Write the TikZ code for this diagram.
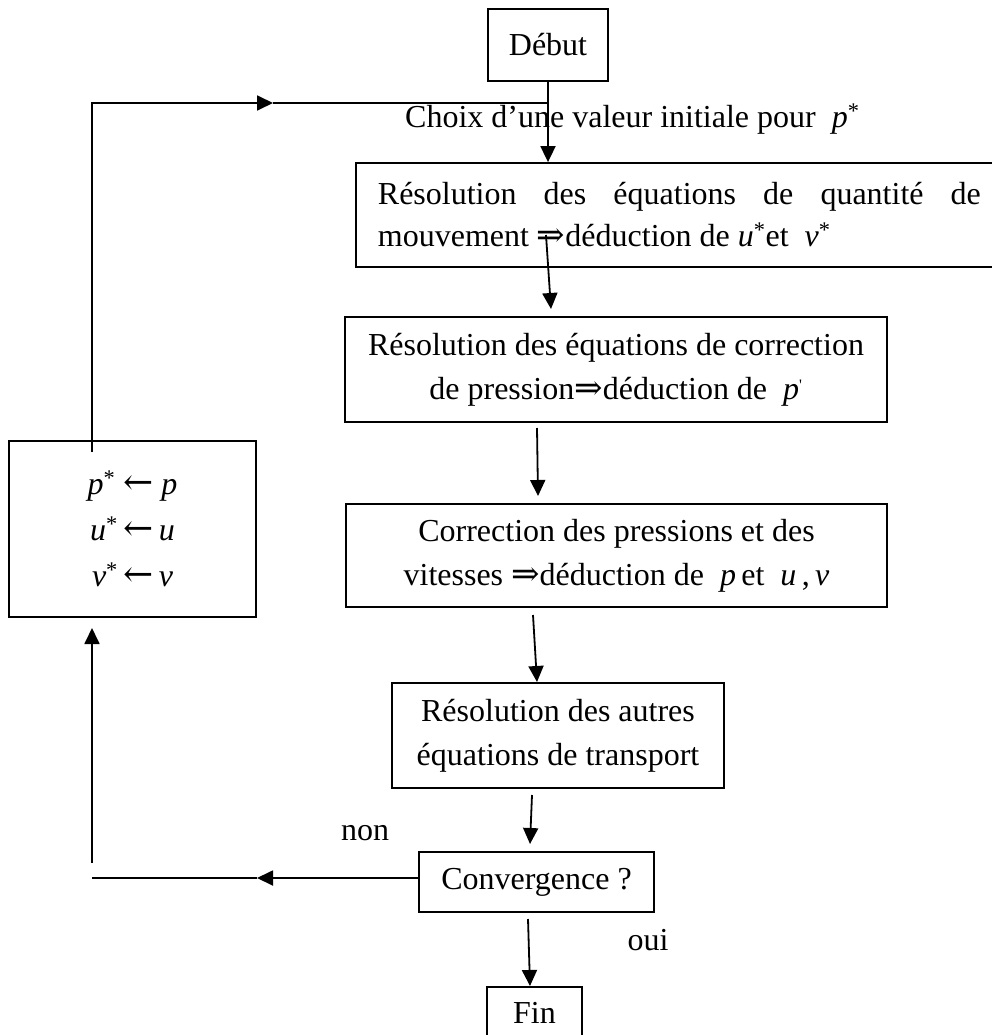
\documentclass[tikz,border=0pt]{standalone}
\usepackage{fontspec}
\setmainfont{Liberation Serif}
\newfontfamily\symfont{DejaVu Serif}
\newcommand{\imp}{{\symfont\fontsize{34}{34}\selectfont ⇒}}
\newcommand{\lar}{{\symfont\fontsize{36}{36}\selectfont ←}}
\newcommand{\st}{\textsuperscript{*}}
\usetikzlibrary{arrows.meta}
\tikzset{
  boxnode/.style={draw, line width=1.8pt, rectangle, inner sep=0pt, align=center,
    font=\fontsize{32}{44}\selectfont},
  lbl/.style={font=\fontsize{32}{44}\selectfont, inner sep=0pt},
  conn/.style={line width=1.8pt},
  arr/.style={conn, -{Triangle[length=16pt,width=15pt]}},
}
\begin{document}
\begin{tikzpicture}[x=1pt,y=-1pt]
\useasboundingbox (0,0) rectangle (992,1035);

\node[boxnode, minimum width=120pt, minimum height=72pt] (debut) at (548,45) {Début};

\node[boxnode, anchor=west, text width=603pt, inner xsep=22pt, minimum height=104pt,
      align=justify, font=\fontsize{32}{42}\selectfont] (b1) at (355,215)
  {Résolution des équations de quantité de\linebreak
   mouvement \imp déduction de \textit{u}\st et \ \textit{v}\st};

\node[boxnode, minimum width=542pt, minimum height=105pt] (b2) at (616,369.5)
  {Résolution des équations de correction\\
   de pression\imp déduction de \ \textit{p}\textsuperscript{\fontsize{16}{16}\selectfont\textquotesingle}};

\node[boxnode, minimum width=541pt, minimum height=103pt] (b3) at (616.5,555.5)
  {Correction des pressions et des\\
   vitesses \imp déduction de \ \textit{p}\,et \ \textit{u}\,,\,\textit{v}};

\node[boxnode, minimum width=332pt, minimum height=105pt] (b4) at (558,735.5)
  {Résolution des autres\\ équations de transport};

\node[boxnode, minimum width=235pt, minimum height=60pt] (conv) at (536.5,882)
  {Convergence ?};

\node[boxnode, minimum width=95pt, minimum height=52pt] (fin) at (534.5,1013) {Fin};

\node[boxnode, minimum width=247pt, minimum height=176pt,
      font=\fontsize{32}{46}\selectfont] (maj) at (132.5,529)
  {\textit{p}\st\ \lar\ \textit{p}\\
   \textit{u}\st\,\lar\,\textit{u}\\
   \textit{v}\st\,\lar\,\textit{v}};

\node[lbl, anchor=base west] (choix) at (405,128)
  {Choix d’une valeur initiale pour \ \textit{p}\st};
\node[lbl] (non) at (365,833) {non};
\node[lbl] (oui) at (648,940) {oui};

% start
\draw[arr] (debut.south) -- (debut.south |- b1.north);

% loop back to start
\coordinate (loopstart) at (92,452);
\coordinate (loopmid) at (273,103);
\coordinate (loopend) at (debut.south |- loopmid);
\draw[arr] (loopstart) |- (loopmid);
\draw[conn] (loopmid) -- (loopend);

% chain
\coordinate (s1) at (546,235);  \coordinate (e1) at (551,309);
\draw[arr] (s1) -- (e1);
\coordinate (s2) at (537,428);  \coordinate (e2) at (538,496);
\draw[arr] (s2) -- (e2);
\coordinate (s3) at (533,615);  \coordinate (e3) at (537,682);
\draw[arr] (s3) -- (e3);
\coordinate (s4) at (532,795);  \coordinate (e4) at (530,844);
\draw[arr] (s4) -- (e4);
\coordinate (s5) at (528,919);  \coordinate (e5) at (530,986);
\draw[arr] (s5) -- (e5);

% non branch
\coordinate (nm) at (257,878);
\coordinate (nl) at (92,878);
\draw[arr] (conv.west |- nm) -- (nm);
\draw[conn] (nm) -- (nl);
\coordinate (ub) at (92,863);
\coordinate (ut) at (92,628);
\draw[arr] (ub) -- (ut);
\end{tikzpicture}
\end{document}
